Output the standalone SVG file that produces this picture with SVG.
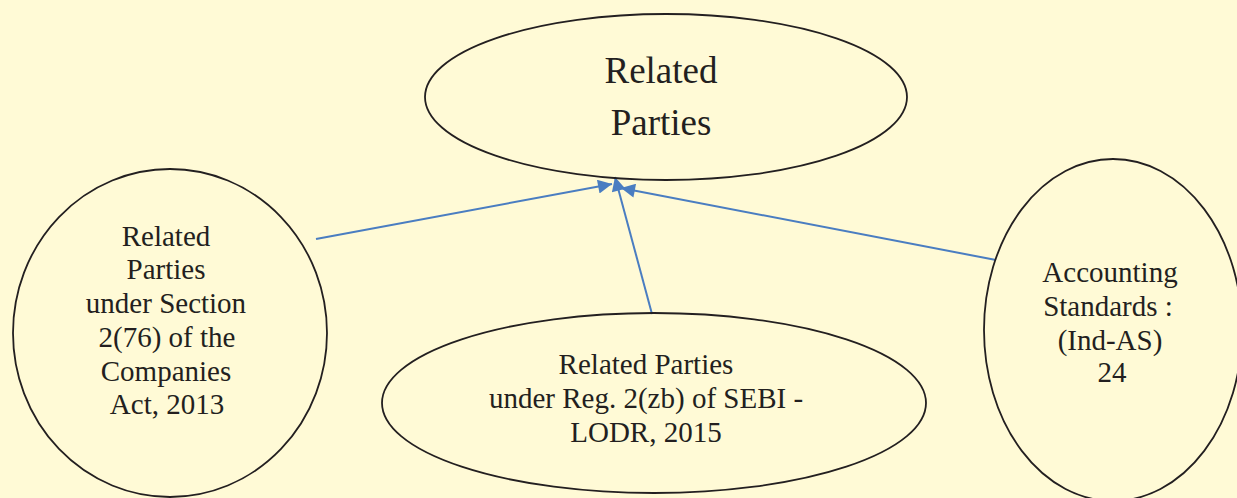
<svg xmlns="http://www.w3.org/2000/svg" width="1237" height="498" viewBox="0 0 1237 498">
<defs>
<style>
.node ellipse{fill:none;stroke:#231F20;stroke-width:1.8}
.node text{font-family:"Liberation Serif","Times New Roman",serif;fill:#231F20;text-anchor:middle;font-size:29px}
.node text.title{font-size:37px}
.conn line{stroke:#4A7DC1;stroke-width:2;fill:none}
</style>
<marker id="arrh" viewBox="0 0 10 10" refX="10" refY="5" markerWidth="16" markerHeight="14" markerUnits="userSpaceOnUse" orient="auto">
<path d="M0,0 L10,5 L0,10 z" fill="#4A7DC1"/>
</marker>
</defs>
<rect width="1237" height="498" fill="#FFFAD6"/>
<g id="connectors" class="conn">
<line x1="316" y1="239" x2="612" y2="184" marker-end="url(#arrh)"/>
<line x1="652" y1="314" x2="615" y2="177" marker-end="url(#arrh)"/>
<line x1="996" y1="260" x2="621" y2="188" marker-end="url(#arrh)"/>
</g>
<g id="node-related-parties" class="node">
<ellipse cx="666" cy="97" rx="241" ry="83"/>
<text class="title" x="661" y="83">Related</text>
<text class="title" x="661" y="135">Parties</text>
</g>
<g id="node-companies-act" class="node">
<ellipse cx="170" cy="333" rx="157" ry="164"/>
<text x="166" y="246">Related</text>
<text x="166" y="279">Parties</text>
<text x="166" y="313">under Section</text>
<text x="167" y="347">2(76) of the</text>
<text x="166" y="381">Companies</text>
<text x="167" y="414">Act, 2013</text>
</g>
<g id="node-sebi-lodr" class="node">
<ellipse cx="654" cy="403" rx="272" ry="90"/>
<text x="646" y="374">Related Parties</text>
<text x="646" y="408">under Reg. 2(zb) of SEBI -</text>
<text x="646" y="442">LODR, 2015</text>
</g>
<g id="node-ind-as" class="node">
<ellipse cx="1113" cy="330" rx="129" ry="171"/>
<text x="1110" y="282">Accounting</text>
<text x="1108" y="316">Standards :</text>
<text x="1110" y="350">(Ind-AS)</text>
<text x="1112" y="382">24</text>
</g>
</svg>
